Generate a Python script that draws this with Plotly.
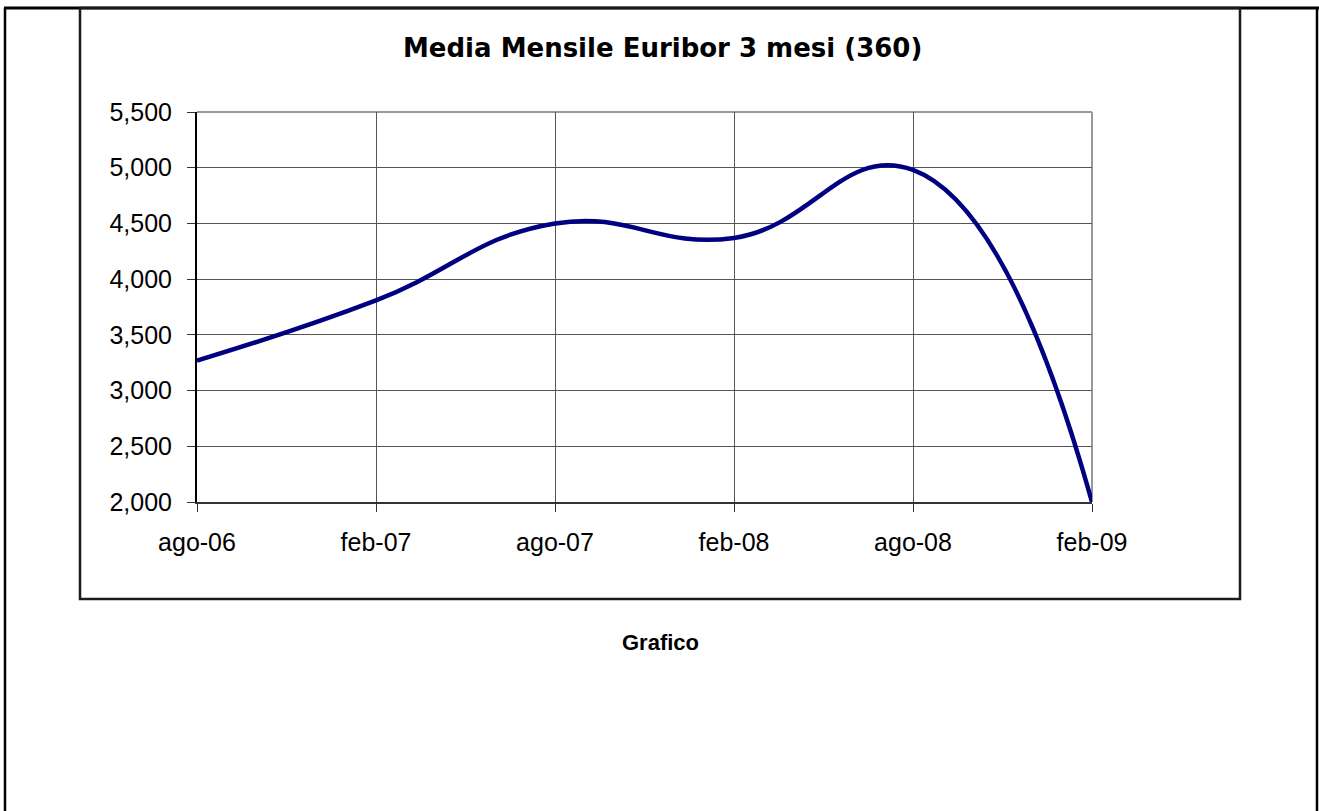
import plotly.graph_objects as go

# Data
months = ["ago-06", "feb-07", "ago-07", "feb-08", "ago-08", "feb-09"]
euribor = [3.27, 3.81, 4.50, 4.37, 4.98, 2.00]
y_ticks = [2.0, 2.5, 3.0, 3.5, 4.0, 4.5, 5.0, 5.5]

title_text = "Media Mensile Euribor 3 mesi (360)"
caption_text = "Grafico"

W, H = 1319, 811
L, R, T, B = 197, 1092, 112, 502


def px(x):
    return (x - L) / (R - L)


def py(y):
    return (B - y) / (B - T)


fig = go.Figure()
fig.add_trace(go.Scatter(
    x=months, y=euribor, mode="lines",
    line=dict(color="#000080", width=4.5, shape="spline", smoothing=1.3),
    hoverinfo="x+y", cliponaxis=False,
))

shapes = []
# outer page frame
shapes.append(dict(type="line", xref="paper", yref="paper", x0=px(4), x1=px(1319), y0=py(8), y1=py(8),
                   line=dict(color="black", width=3)))
shapes.append(dict(type="line", xref="paper", yref="paper", x0=px(5), x1=px(5), y0=py(8), y1=py(815),
                   line=dict(color="black", width=2.5)))
shapes.append(dict(type="line", xref="paper", yref="paper", x0=px(1317), x1=px(1317), y0=py(8), y1=py(815),
                   line=dict(color="black", width=2.5)))
# chart box
shapes.append(dict(type="rect", xref="paper", yref="paper", x0=px(80), x1=px(1240), y0=py(8), y1=py(599),
                   line=dict(color="#1a1a1a", width=2.5)))
# plot area top/right border (grey)
shapes.append(dict(type="line", xref="paper", yref="paper", x0=0, x1=1, y0=1, y1=1,
                   line=dict(color="#999999", width=2), layer="below"))
shapes.append(dict(type="line", xref="paper", yref="paper", x0=1, x1=1, y0=0, y1=1,
                   line=dict(color="#999999", width=2), layer="below"))

fig.update_layout(
    width=W, height=H,
    margin=dict(l=L, r=W - R, t=T, b=H - B, pad=0),
    paper_bgcolor="white", plot_bgcolor="white",
    showlegend=False,
    separators=",.",
    font=dict(family="Liberation Sans, Arial, sans-serif", color="black", size=25),
    shapes=shapes,
    annotations=[
        dict(text="<b>" + title_text + "</b>", xref="paper", yref="paper",
             x=px(662), y=py(48), xanchor="center", yanchor="middle", showarrow=False,
             font=dict(family="DejaVu Sans, Verdana, sans-serif", size=26, color="black")),
        dict(text="<b>" + caption_text + "</b>", xref="paper", yref="paper",
             x=px(660), y=py(642), xanchor="center", yanchor="middle", showarrow=False,
             font=dict(family="Liberation Sans, Arial, sans-serif", size=22, color="black")),
    ],
)

fig.update_xaxes(
    type="category", range=[0, len(months) - 1],
    showgrid=True, gridcolor="#555555", gridwidth=1,
    showline=True, linecolor="#333333", linewidth=2,
    ticks="outside", ticklen=8, tickcolor="#333333", tickwidth=1,
    ticklabelstandoff=9,
    tickfont=dict(size=25, family="Liberation Sans, Arial, sans-serif"),
    zeroline=False, fixedrange=True,
)
fig.update_yaxes(
    range=[2.0, 5.5], tickvals=y_ticks, tickformat=".3f",
    showgrid=True, gridcolor="#555555", gridwidth=1,
    showline=True, linecolor="black", linewidth=2,
    ticks="outside", ticklen=8, tickcolor="#333333", tickwidth=1,
    ticklabelstandoff=10,
    tickfont=dict(size=25, family="Liberation Sans, Arial, sans-serif"),
    zeroline=False, fixedrange=True,
)

fig.write_html("out.html", config={"displayModeBar": False},
               post_script="document.body.style.margin='0';document.body.style.overflow='hidden';")
